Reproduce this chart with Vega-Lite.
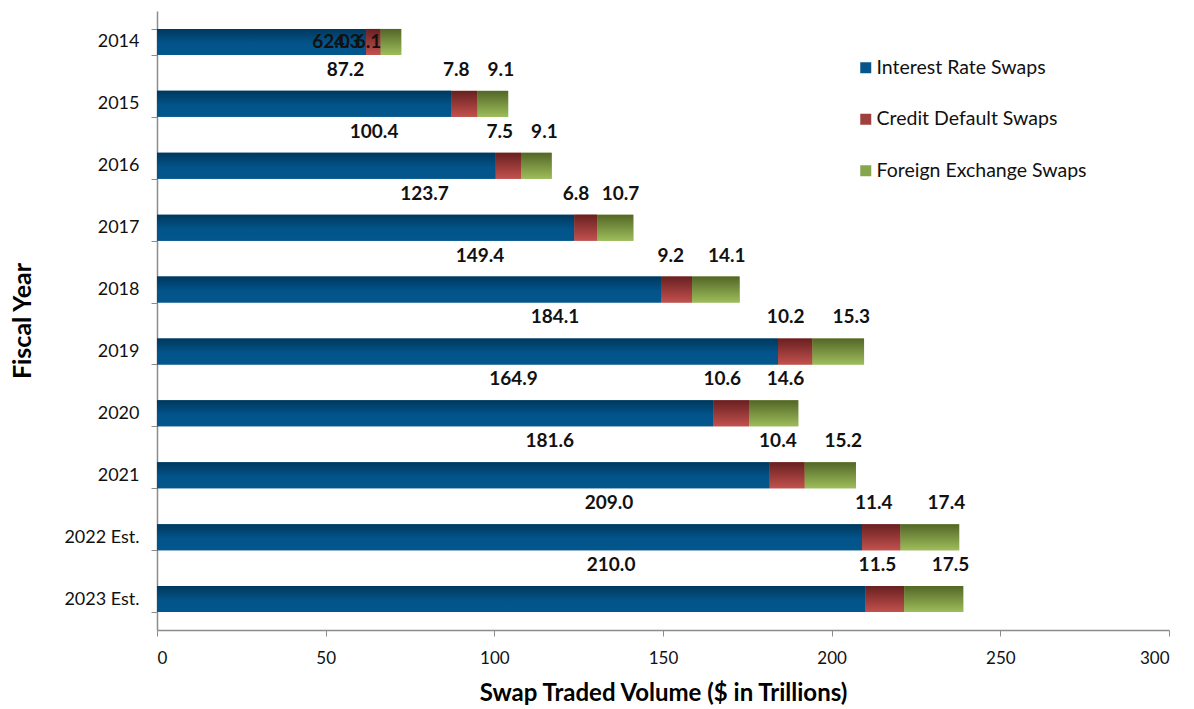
{
  "$schema": "https://vega.github.io/schema/vega-lite/v6.json",
  "width": 1012,
  "height": 619,
  "autosize": {"type": "none"},
  "padding": {"left": 157, "top": 11, "right": 25, "bottom": 79},
  "background": "white",
  "config": {
    "view": {"stroke": null},
    "font": "Lato",
    "axis": {"domainColor": "#8c8c8c", "tickColor": "#8c8c8c", "grid": false, "labelColor": "#111", "titleColor": "#000", "labelFont": "Lato", "titleFont": "Lato"},
    "legend": {"labelFont": "Lato"}
  },
  "data": {
    "values": [
      {"year": "2014", "type": "Interest Rate Swaps", "k": 1, "value": 62.0},
      {"year": "2014", "type": "Credit Default Swaps", "k": 2, "value": 4.3},
      {"year": "2014", "type": "Foreign Exchange Swaps", "k": 3, "value": 6.1},
      {"year": "2015", "type": "Interest Rate Swaps", "k": 1, "value": 87.2},
      {"year": "2015", "type": "Credit Default Swaps", "k": 2, "value": 7.8},
      {"year": "2015", "type": "Foreign Exchange Swaps", "k": 3, "value": 9.1},
      {"year": "2016", "type": "Interest Rate Swaps", "k": 1, "value": 100.4},
      {"year": "2016", "type": "Credit Default Swaps", "k": 2, "value": 7.5},
      {"year": "2016", "type": "Foreign Exchange Swaps", "k": 3, "value": 9.1},
      {"year": "2017", "type": "Interest Rate Swaps", "k": 1, "value": 123.7},
      {"year": "2017", "type": "Credit Default Swaps", "k": 2, "value": 6.8},
      {"year": "2017", "type": "Foreign Exchange Swaps", "k": 3, "value": 10.7},
      {"year": "2018", "type": "Interest Rate Swaps", "k": 1, "value": 149.4},
      {"year": "2018", "type": "Credit Default Swaps", "k": 2, "value": 9.2},
      {"year": "2018", "type": "Foreign Exchange Swaps", "k": 3, "value": 14.1},
      {"year": "2019", "type": "Interest Rate Swaps", "k": 1, "value": 184.1},
      {"year": "2019", "type": "Credit Default Swaps", "k": 2, "value": 10.2},
      {"year": "2019", "type": "Foreign Exchange Swaps", "k": 3, "value": 15.3},
      {"year": "2020", "type": "Interest Rate Swaps", "k": 1, "value": 164.9},
      {"year": "2020", "type": "Credit Default Swaps", "k": 2, "value": 10.6},
      {"year": "2020", "type": "Foreign Exchange Swaps", "k": 3, "value": 14.6},
      {"year": "2021", "type": "Interest Rate Swaps", "k": 1, "value": 181.6},
      {"year": "2021", "type": "Credit Default Swaps", "k": 2, "value": 10.4},
      {"year": "2021", "type": "Foreign Exchange Swaps", "k": 3, "value": 15.2},
      {"year": "2022 Est.", "type": "Interest Rate Swaps", "k": 1, "value": 209.0},
      {"year": "2022 Est.", "type": "Credit Default Swaps", "k": 2, "value": 11.4},
      {"year": "2022 Est.", "type": "Foreign Exchange Swaps", "k": 3, "value": 17.4},
      {"year": "2023 Est.", "type": "Interest Rate Swaps", "k": 1, "value": 210.0},
      {"year": "2023 Est.", "type": "Credit Default Swaps", "k": 2, "value": 11.5},
      {"year": "2023 Est.", "type": "Foreign Exchange Swaps", "k": 3, "value": 17.5}
    ]
  },
  "transform": [
    {"stack": "value", "groupby": ["year"], "sort": [{"field": "k", "order": "ascending"}], "as": ["x0", "x1"]}
  ],
  "encoding": {
    "y": {
      "field": "year", "type": "nominal", "sort": null,
      "scale": {"paddingInner": 0.58, "paddingOuter": 0.29},
      "axis": {"title": "Fiscal Year", "titleFontSize": 25, "titleFontWeight": "bold", "titlePadding": 28, "labelFontSize": 18, "tickBand": "extent", "tickSize": 6, "labelPadding": 12, "domainWidth": 1.5}
    }
  },
  "layer": [
    {
      "encoding": {
        "x": {
          "field": "x0", "type": "quantitative",
          "scale": {"domain": [0, 300], "nice": false},
          "axis": {"title": "Swap Traded Volume ($ in Trillions)", "titleFontSize": 24, "titleFontWeight": "bold", "titlePadding": 15, "labelFontSize": 17, "values": [0, 50, 100, 150, 200, 250, 300], "tickSize": 6, "labelPadding": 14, "domainWidth": 1.5}
        },
        "x2": {"field": "x1"}
      },
      "layer": [
        {
          "mark": {"type": "bar"},
          "encoding": {
            "color": {
              "field": "type", "type": "nominal",
              "scale": {"domain": ["Interest Rate Swaps", "Credit Default Swaps", "Foreign Exchange Swaps"], "range": ["#07558A", "#A0403E", "#85A64B"]},
              "legend": {"orient": "none", "legendX": 699, "legendY": 47, "title": null, "symbolType": "square", "symbolSize": 121, "symbolStrokeWidth": 0, "labelFontSize": 19.5, "labelColor": "#111", "labelLimit": 0, "rowPadding": 30.5, "labelOffset": 1}
            }
          }
        },
        {
          "transform": [{"filter": "datum.type === 'Interest Rate Swaps'"}],
          "mark": {"type": "bar", "color": {"gradient": "linear", "x1": 0, "y1": 0, "x2": 0, "y2": 1, "stops": [{"offset": 0, "color": "#00385C"}, {"offset": 0.55, "color": "#02548A"}, {"offset": 1, "color": "#03578C"}]}}
        },
        {
          "transform": [{"filter": "datum.type === 'Credit Default Swaps'"}],
          "mark": {"type": "bar", "color": {"gradient": "linear", "x1": 0, "y1": 0, "x2": 0, "y2": 1, "stops": [{"offset": 0, "color": "#682020"}, {"offset": 1, "color": "#C2514E"}]}}
        },
        {
          "transform": [{"filter": "datum.type === 'Foreign Exchange Swaps'"}],
          "mark": {"type": "bar", "color": {"gradient": "linear", "x1": 0, "y1": 0, "x2": 0, "y2": 1, "stops": [{"offset": 0, "color": "#536627"}, {"offset": 1, "color": "#9DBD5A"}]}}
        },
        {
          "transform": [{"filter": "datum.type === 'Credit Default Swaps' && datum.year !== '2014'"}],
          "mark": {"type": "text", "align": "right", "baseline": "middle", "dy": -34, "dx": -8, "fontSize": 19, "fontWeight": "bold", "color": "#111"},
          "encoding": {"x": {"field": "x1", "type": "quantitative"}, "x2": null, "text": {"field": "value", "type": "quantitative", "format": ".1f"}}
        },
        {
          "transform": [{"filter": "datum.type === 'Foreign Exchange Swaps' && datum.year !== '2014'"}],
          "mark": {"type": "text", "align": "right", "baseline": "middle", "dy": -34, "dx": 6, "fontSize": 19, "fontWeight": "bold", "color": "#111"},
          "encoding": {"x": {"field": "x1", "type": "quantitative"}, "x2": null, "text": {"field": "value", "type": "quantitative", "format": ".1f"}}
        },
        {
          "transform": [{"filter": "datum.type !== 'Interest Rate Swaps' && datum.year === '2014'"}],
          "mark": {"type": "text", "align": "right", "baseline": "middle", "dx": -20, "fontSize": 19, "fontWeight": "bold", "color": "#111"},
          "encoding": {"x": {"field": "x1", "type": "quantitative"}, "x2": null, "text": {"field": "value", "type": "quantitative", "format": ".1f"}}
        }
      ]
    },
    {
      "transform": [{"filter": "datum.type === 'Interest Rate Swaps'"}],
      "encoding": {
        "x": {"field": "value", "type": "quantitative", "scale": {"domain": [0, 468], "nice": false}, "axis": null},
        "text": {"field": "value", "type": "quantitative", "format": ".1f"}
      },
      "layer": [
        {
          "transform": [{"filter": "datum.year !== '2014'"}],
          "mark": {"type": "text", "align": "center", "baseline": "middle", "dy": -34, "fontSize": 19, "fontWeight": "bold", "color": "#111"}
        },
        {
          "transform": [{"filter": "datum.year === '2014'"}],
          "mark": {"type": "text", "align": "center", "baseline": "middle", "dx": 40, "fontSize": 19, "fontWeight": "bold", "color": "#111"}
        }
      ]
    }
  ],
  "resolve": {"scale": {"x": "independent"}}
}
